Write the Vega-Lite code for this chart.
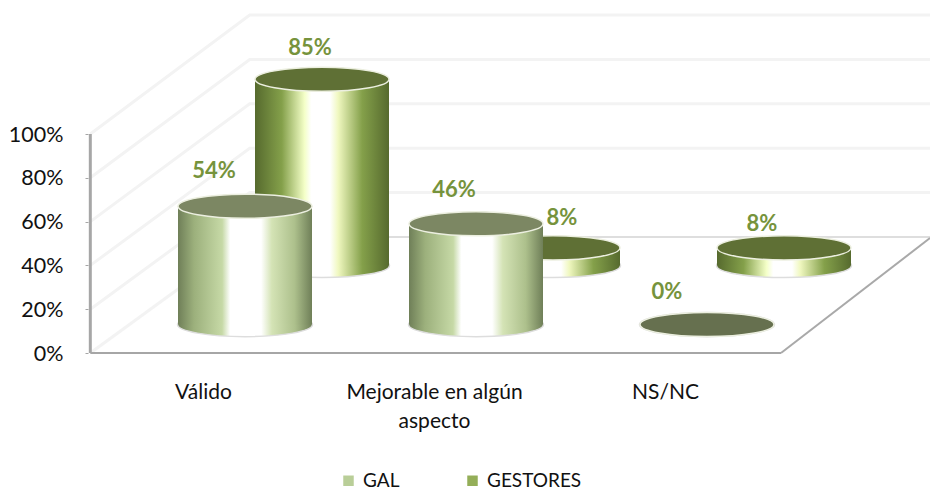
{
"$schema":"https://vega.github.io/schema/vega-lite/v6.json",
"width":842,"height":353,"autosize":{"type":"none"},
"padding":{"left":88,"top":0,"right":0,"bottom":136},
"background":"white",
"config":{"view":{"stroke":null},"font":"Lato"},
"datasets":{
"main":[
{"category":"Válido","series":"GAL","value":54},
{"category":"Mejorable en algún aspecto","series":"GAL","value":46},
{"category":"NS/NC","series":"GAL","value":0},
{"category":"Válido","series":"GESTORES","value":85},
{"category":"Mejorable en algún aspecto","series":"GESTORES","value":8},
{"category":"NS/NC","series":"GESTORES","value":8}],
"grid":[
{"g":"a","d":0.01,"p":20},{"g":"a","d":0.7,"p":73.3},{"g":"a","d":3.645,"p":73.3},
{"g":"b","d":0.01,"p":40},{"g":"b","d":0.7,"p":93.5},{"g":"b","d":3.645,"p":93.5},
{"g":"c","d":0.01,"p":60},{"g":"c","d":0.7,"p":113.8},{"g":"c","d":3.645,"p":113.8},
{"g":"e","d":0.01,"p":80},{"g":"e","d":0.7,"p":134},{"g":"e","d":3.645,"p":134},
{"g":"f","d":0.01,"p":100},{"g":"f","d":0.7,"p":154.3},{"g":"f","d":3.645,"p":154.3},
{"g":"z","d":0.01,"p":0},{"g":"z","d":0.7,"p":53}],
"floor":[{"g":"b","d":0.7,"p":53},{"g":"b","d":3.645,"p":53}],
"wall":[{"d":0.01,"p":0},{"d":0.01,"p":100}],
"base":[{"d":0.01,"p":0},{"d":3,"p":0}],
"diag":[{"d":3,"p":0},{"d":3.645,"p":52.5}]
},
"resolve":{"scale":{"x":"independent"},"axis":{"x":"independent"}},
"layer":[
{"data":{"name":"grid"},"mark":{"type":"line","stroke":"#f3f3f3","strokeWidth":3},
 "encoding":{"x":{"field":"d","type":"quantitative","axis":null,"scale":{"domain":[0,3.645],"nice":false,"zero":false}},
 "y":{"field":"p","type":"quantitative","scale":{"domain":[0,161.2],"nice":false,"zero":false},
  "axis":{"values":[0,20,40,60,80,100],"labelExpr":"datum.value+'%'","title":null,"domain":false,"grid":false,"tickColor":"#a6a6a6","tickSize":3,"tickWidth":1,"labelFontSize":21.5,"labelColor":"#111111","labelPadding":22,"labelFont":"Lato","labelOffset":1}},
 "detail":{"field":"g"}}},
{"data":{"name":"floor"},"mark":{"type":"line","stroke":"#dedede","strokeWidth":2},
 "encoding":{"x":{"field":"d","type":"quantitative","axis":null,"scale":{"domain":[0,3.645],"nice":false,"zero":false}},
 "y":{"field":"p","type":"quantitative","scale":{"domain":[0,161.2],"nice":false,"zero":false}}}},
{"data":{"name":"wall"},"mark":{"type":"line","stroke":"#a6a6a6","strokeWidth":3},
 "encoding":{"x":{"field":"d","type":"quantitative","axis":null,"scale":{"domain":[0,3.645],"nice":false,"zero":false}},
 "y":{"field":"p","type":"quantitative","scale":{"domain":[0,161.2],"nice":false,"zero":false}}}},
{"data":{"name":"base"},"mark":{"type":"line","stroke":"#a6a6a6","strokeWidth":2},
 "encoding":{"x":{"field":"d","type":"quantitative","axis":null,"scale":{"domain":[0,3.645],"nice":false,"zero":false}},
 "y":{"field":"p","type":"quantitative","scale":{"domain":[0,161.2],"nice":false,"zero":false}}}},
{"data":{"name":"diag"},"mark":{"type":"line","stroke":"#a9a9a9","strokeWidth":2},
 "encoding":{"x":{"field":"d","type":"quantitative","axis":null,"scale":{"domain":[0,3.645],"nice":false,"zero":false}},
 "y":{"field":"p","type":"quantitative","scale":{"domain":[0,161.2],"nice":false,"zero":false}}}},
{"data":{"name":"main"},
 "transform":[
  {"calculate":"datum.series==='GAL'?13:40","as":"floorLevel"},
  {"calculate":"datum.floorLevel+datum.value","as":"topLevel"},
  {"calculate":"datum.category+'|'+datum.series","as":"key"},
  {"calculate":"datum.value+'%'","as":"label"}],
 "encoding":{
  "x":{"field":"category","type":"nominal","sort":["Válido","Mejorable en algún aspecto","NS/NC"],
   "scale":{"domain":["Válido","Mejorable en algún aspecto","NS/NC"],"range":[0,693],"paddingInner":0,"paddingOuter":0},
   "axis":{"title":null,"domain":false,"ticks":false,"labelAngle":0,"labelFontSize":21,"labelColor":"#111111","labelPadding":28,"labelLineHeight":29,"labelLimit":300,"labelFont":"Lato",
    "labelExpr":"datum.label==='Mejorable en algún aspecto'?['Mejorable en algún','aspecto']:datum.label"}},
  "xOffset":{"field":"series","type":"nominal","scale":{"type":"point","padding":0,"domain":["GAL","GESTORES"],"range":[157,234]}}
 },
 "layer":[
  {"transform":[{"filter":"datum.series==='GESTORES'"}],
   "mark":{"type":"point","shape":"M -1 0 A 1 0.18 0 1 0 1 0 A 1 0.18 0 1 0 -1 0 Z","size":18225,"filled":true,"opacity":1,"stroke":"#dddddd","strokeWidth":1.5,
    "fill":{"x1":0,"y1":0,"x2":1,"y2":0,"gradient":"linear","stops":[{"offset":0,"color":"#566a2e"},{"offset":0.2,"color":"#84a04a"},{"offset":0.37,"color":"#f4ffc8"},{"offset":0.42,"color":"#ffffff"},{"offset":0.56,"color":"#ffffff"},{"offset":0.62,"color":"#f0f8c0"},{"offset":0.8,"color":"#84a04a"},{"offset":1,"color":"#566a2e"}]}},
   "encoding":{"y":{"field":"floorLevel","type":"quantitative","scale":{"domain":[0,161.2],"nice":false,"zero":false}}}},
  {"transform":[{"filter":"datum.series==='GESTORES'"}],
   "mark":{"type":"bar","width":134,
    "fill":{"x1":0,"y1":0,"x2":1,"y2":0,"gradient":"linear","stops":[{"offset":0,"color":"#566a2e"},{"offset":0.2,"color":"#84a04a"},{"offset":0.37,"color":"#f4ffc8"},{"offset":0.42,"color":"#ffffff"},{"offset":0.56,"color":"#ffffff"},{"offset":0.62,"color":"#f0f8c0"},{"offset":0.8,"color":"#84a04a"},{"offset":1,"color":"#566a2e"}]}},
   "encoding":{"y":{"field":"topLevel","type":"quantitative","scale":{"domain":[0,161.2],"nice":false,"zero":false}},"y2":{"field":"floorLevel"}}},
  {"transform":[{"filter":"datum.series==='GESTORES'"}],
   "mark":{"type":"point","shape":"M -1 0 A 1 0.18 0 1 0 1 0 A 1 0.18 0 1 0 -1 0 Z","size":17956,"filled":true,"opacity":1,"fill":"#5f7035","stroke":"#ecefe0","strokeWidth":1.5},
   "encoding":{"y":{"field":"topLevel","type":"quantitative","scale":{"domain":[0,161.2],"nice":false,"zero":false}}}},
  {"transform":[{"filter":"datum.series==='GAL'"}],
   "mark":{"type":"point","shape":"M -1 0 A 1 0.18 0 1 0 1 0 A 1 0.18 0 1 0 -1 0 Z","size":18225,"filled":true,"opacity":1,"stroke":"#dddddd","strokeWidth":1.5,
    "fill":{"x1":0,"y1":0,"x2":1,"y2":0,"gradient":"linear","stops":[{"offset":0,"color":"#6f7f58"},{"offset":0.12,"color":"#9cb07c"},{"offset":0.33,"color":"#c6d9a6"},{"offset":0.39,"color":"#ffffff"},{"offset":0.62,"color":"#ffffff"},{"offset":0.7,"color":"#d4e3b5"},{"offset":0.87,"color":"#adc08c"},{"offset":1,"color":"#6f7f58"}]}},
   "encoding":{"y":{"field":"floorLevel","type":"quantitative","scale":{"domain":[0,161.2],"nice":false,"zero":false}}}},
  {"transform":[{"filter":"datum.series==='GAL'"}],
   "mark":{"type":"bar","width":134,
    "fill":{"x1":0,"y1":0,"x2":1,"y2":0,"gradient":"linear","stops":[{"offset":0,"color":"#6f7f58"},{"offset":0.12,"color":"#9cb07c"},{"offset":0.33,"color":"#c6d9a6"},{"offset":0.39,"color":"#ffffff"},{"offset":0.62,"color":"#ffffff"},{"offset":0.7,"color":"#d4e3b5"},{"offset":0.87,"color":"#adc08c"},{"offset":1,"color":"#6f7f58"}]}},
   "encoding":{"y":{"field":"topLevel","type":"quantitative","scale":{"domain":[0,161.2],"nice":false,"zero":false}},"y2":{"field":"floorLevel"}}},
  {"transform":[{"filter":"datum.series==='GAL'"}],
   "mark":{"type":"point","shape":"M -1 0 A 1 0.18 0 1 0 1 0 A 1 0.18 0 1 0 -1 0 Z","size":17956,"filled":true,"opacity":1,"fill":{"expr":"datum.value===0?'#66704f':'#7c8763'"},"stroke":"#ecefe0","strokeWidth":1.5},
   "encoding":{"y":{"field":"topLevel","type":"quantitative","scale":{"domain":[0,161.2],"nice":false,"zero":false}}}},
  {"mark":{"type":"text","fontSize":22,"fontWeight":"bold","font":"Lato","color":"#76933c","align":"center","baseline":"middle",
    "dx":{"expr":"{'Válido|GAL':-31,'Válido|GESTORES':-12,'Mejorable en algún aspecto|GAL':-22,'Mejorable en algún aspecto|GESTORES':9,'NS/NC|GAL':-40,'NS/NC|GESTORES':-22}[datum.key]"},
    "dy":{"expr":"{'Válido|GAL':-35,'Válido|GESTORES':-31,'Mejorable en algún aspecto|GAL':-34,'Mejorable en algún aspecto|GESTORES':-30,'NS/NC|GAL':-33,'NS/NC|GESTORES':-24}[datum.key]"}},
   "encoding":{"y":{"field":"topLevel","type":"quantitative","scale":{"domain":[0,161.2],"nice":false,"zero":false}},
    "text":{"field":"label","type":"nominal"},
    "detail":{"field":"key"}}},
  {"mark":{"type":"point","filled":true,"size":0},
   "encoding":{"y":{"field":"topLevel","type":"quantitative","scale":{"domain":[0,161.2],"nice":false,"zero":false}},
    "color":{"field":"series","type":"nominal","scale":{"domain":["GAL","GESTORES"],"range":["#b9ce98","#94ae58"]},
     "legend":{"orient":"none","legendX":251,"legendY":471,"direction":"horizontal","columns":2,"title":null,"symbolType":"square","symbolSize":110,"symbolOpacity":1,"labelFontSize":19,"labelColor":"#111111","labelFont":"Lato","labelOffset":5,"columnPadding":63,"labelLimit":200}}}}
 ]}
]}
